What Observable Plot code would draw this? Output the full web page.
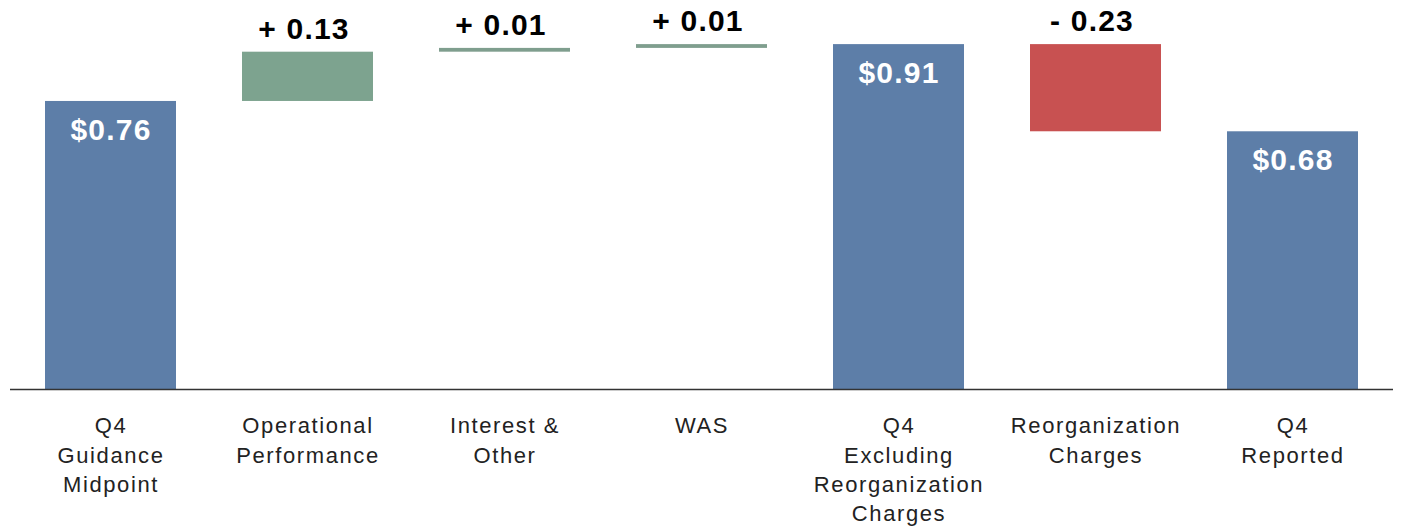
<!DOCTYPE html>
<html>
<head>
<meta charset="utf-8">
<script src="https://cdn.jsdelivr.net/npm/d3@7"></script>
<script src="https://cdn.jsdelivr.net/npm/@observablehq/plot@0.6"></script>
<style>
  html, body { margin: 0; padding: 0; background: #fff; }
  svg g[aria-label="x-axis tick label"] text { letter-spacing: 1.6px; }
  svg g[aria-label="text"] text { letter-spacing: 1.2px; }
</style>
</head>
<body>
<div id="chart"></div>
<script>
const categories = ["guidance", "operational", "interest", "was", "excluding", "reorg", "reported"];
const tickLabels = [
  "Q4\nGuidance\nMidpoint",
  "Operational\nPerformance",
  "Interest &\nOther",
  "WAS",
  "Q4\nExcluding\nReorganization\nCharges",
  "Reorganization\nCharges",
  "Q4\nReported"
];
const values = [0.76, 0.13, 0.01, 0.01, 0.91, -0.23, 0.68];
const kinds = ["total", "delta", "delta", "delta", "total", "delta", "total"];

// build waterfall rows
let running = 0;
const rows = categories.map((c, i) => {
  let y1, y2;
  if (kinds[i] === "total") { y1 = 0; y2 = values[i]; running = values[i]; }
  else { y1 = running; y2 = running + values[i]; running = y2; }
  const v = values[i];
  const label = kinds[i] === "total" ? `$${v.toFixed(2)}` : (v >= 0 ? `+ ${v.toFixed(2)}` : `- ${Math.abs(v).toFixed(2)}`);
  const color = kinds[i] === "total" ? "#5d7ea8" : (v >= 0 ? (Math.abs(v) < 0.05 ? "#7f9e8e" : "#7da38f") : "#c85151");
  return {c, y1, y2, top: Math.max(y1, y2), kind: kinds[i], label, color};
});
const labelMap = new Map(categories.map((c, i) => [c, tickLabels[i]]));

const font = "'Liberation Sans', Arial, Helvetica, sans-serif";

const chart = Plot.plot({
  width: 1401,
  height: 531,
  marginTop: 10,
  marginBottom: 142,
  marginLeft: 10,
  marginRight: 8,
  style: {fontFamily: font, color: "#222", background: "#fff"},
  x: {domain: categories, paddingInner: 0.337, paddingOuter: 0.17, label: null, axis: null},
  y: {domain: [0, 1], axis: null},
  marks: [
    Plot.barY(rows, {x: "c", y1: "y1", y2: "y2", fill: "color", inset: 0}),
    Plot.ruleY([0], {stroke: "#333", strokeWidth: 1.5}),
    Plot.axisX({
      tickSize: 0,
      tickPadding: 23,
      fontSize: 22,
      lineHeight: 1.33,
      tickFormat: d => labelMap.get(d),
      label: null,
      fill: "#222"
    }),
    Plot.text(rows.filter(d => d.kind === "total"), {
      x: "c", y: "top", text: "label", dy: 29,
      fill: "#fff", fontSize: 30, fontWeight: "bold"
    }),
    Plot.text(rows.filter(d => d.kind === "delta"), {
      x: "c", y: "top", text: "label", dy: -23, dx: -4,
      fill: "#000", fontSize: 30, fontWeight: "bold"
    })
  ]
});
document.getElementById("chart").appendChild(chart);
</script>
</body>
</html>
